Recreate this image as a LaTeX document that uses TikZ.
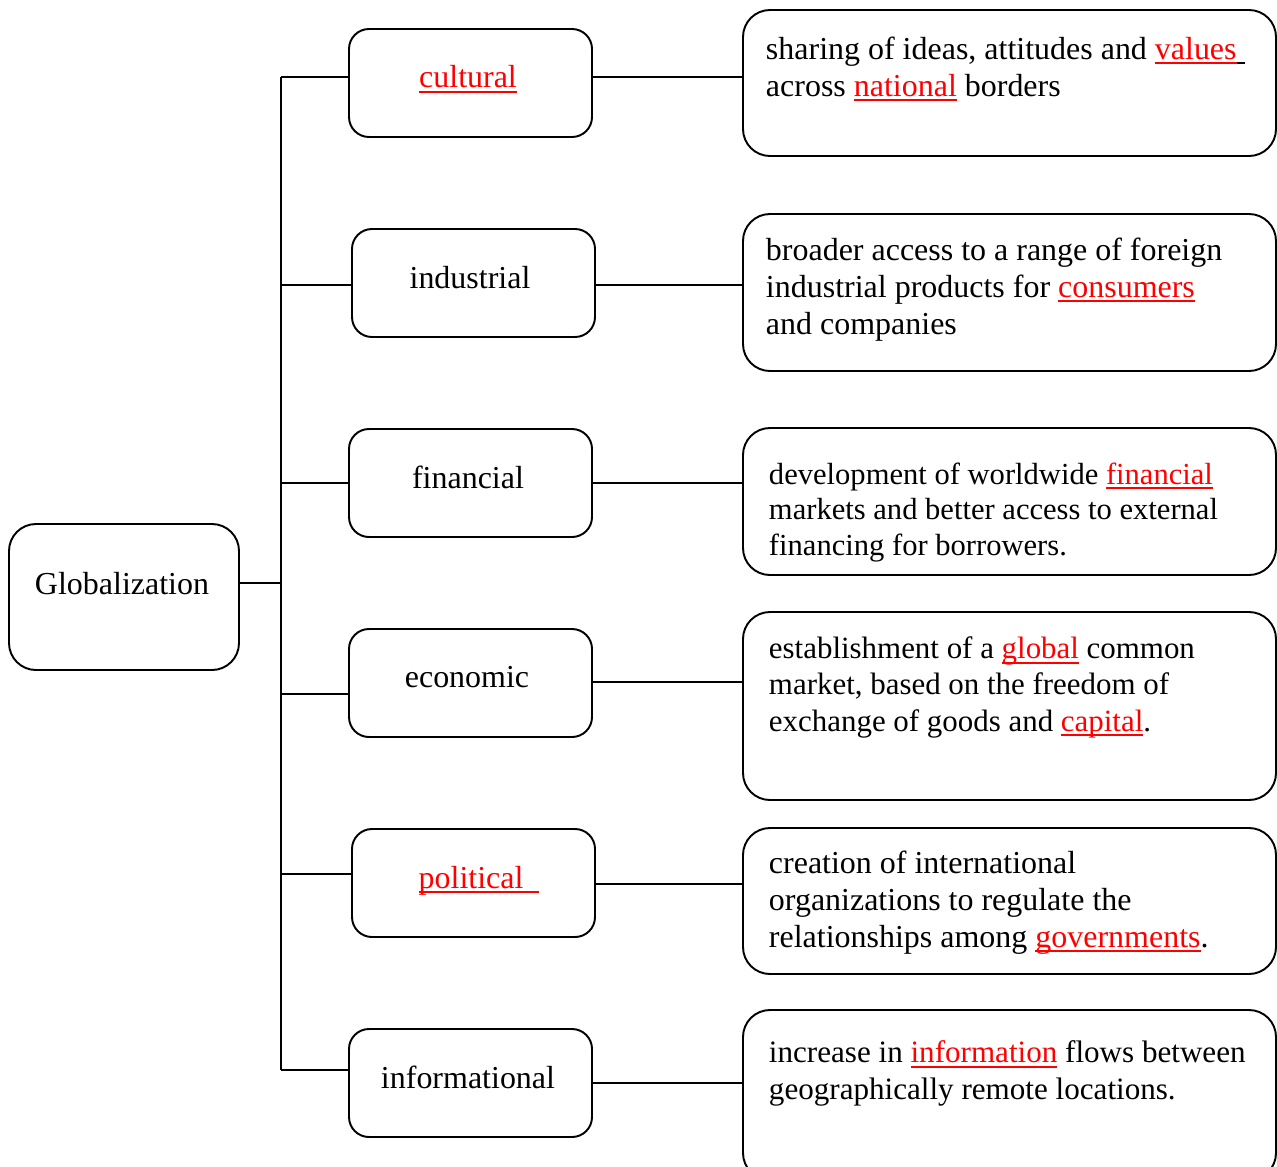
\documentclass[tikz,border=0pt]{standalone}
\usepackage{fontspec}
\setmainfont{Liberation Serif}
\usetikzlibrary{fit}
\definecolor{keyred}{rgb}{1,0,0}
\newcommand{\ulbar}[1]{\rule[-0.15em]{#1}{0.06em}}
\newcommand{\keyword}[1]{\textcolor{keyred}{\setbox0\hbox{#1}\rlap{\ulbar{\wd0}}\box0}}

\begin{document}
\begin{tikzpicture}[x=0.02cm, y=-0.02cm, line width=1.1pt,
    rootbox/.style={draw, rounded corners=0.54cm, inner sep=0pt},
    kindbox/.style={draw, rounded corners=0.4cm, inner sep=0pt},
    descbox/.style={draw, rounded corners=0.54cm, inner sep=0pt},
    kindtext/.style={inner sep=0pt, font=\fontsize{18.2}{21}\selectfont},
    desctext/.style={inner sep=0pt, align=left, font=\fontsize{18.2}{21}\selectfont}]
    \useasboundingbox (0,0) rectangle (1277,1166);

    % root box
    \node[rootbox, fit={(9,524) (239,670)}] (glob) {};
    \node[kindtext, anchor=base] (globtext) at (122,594) {Globalization};

    % kinds of globalization
    \foreach \name/\x/\y in {cul/349/29, ind/352/229, fin/349/429, eco/349/629, pol/352/829, inf/349/1029}
        \node[kindbox, fit={(\x,\y) (\x+243,\y+108)}] (\name) {};

    \node[kindtext, anchor=base] (kcul) at (468,88) {\keyword{cultural}};
    \node[kindtext, anchor=base] (kind) at (470,288) {industrial};
    \node[kindtext, anchor=base] (kfin) at (468,488) {financial};
    \node[kindtext, anchor=base] (keco) at (467,687) {economic};
    \node[kindtext, anchor=base] (kpol) at (479,888) {\keyword{political\hspace{9pt}}};
    \node[kindtext, anchor=base] (kinf) at (468,1088) {informational};

    % descriptions (base = last line)
    \foreach \name/\ya/\yb in {cul/10/156, ind/214/371, fin/428/575, eco/612/800, pol/828/974, inf/1010/1180}
        \node[descbox, fit={(743,\ya) (1276,\yb)}] (d\name) {};

    \node[desctext, anchor=base west] (tcul) at (765,96)
        {sharing of ideas, attitudes and \keyword{values}\ulbar{5pt}\\
         across \keyword{national} borders};
    \node[desctext, anchor=base west] (tind) at (765,334)
        {broader access to a range of foreign\\
         industrial products for \keyword{consumers}\\
         and companies};
    \node[desctext, anchor=base west, font=\fontsize{17.4}{20.2}\selectfont] (tfin) at (768,555)
        {development of worldwide \keyword{financial}\\
         markets and better access to external\\
         financing for borrowers.};
    \node[desctext, anchor=base west, font=\fontsize{17.6}{20.5}\selectfont] (teco) at (768,731)
        {establishment of a \keyword{global} common\\
         market, based on the freedom of\\
         exchange of goods and \keyword{capital}.};
    \node[desctext, anchor=base west] (tpol) at (768,947)
        {creation of international\\
         organizations to regulate the\\
         relationships among \keyword{governments}.};
    \node[desctext, anchor=base west, font=\fontsize{17.7}{20.5}\selectfont] (tinf) at (768,1099)
        {increase in \keyword{information} flows between\\
         geographically remote locations.};

    % connectors
    \coordinate (trunktop) at (281,77);
    \coordinate (trunkbot) at (281,1070);
    \coordinate (hub) at (281,583);
    \draw (trunktop) -- (trunkbot);
    \draw (glob.east |- hub) -- (hub);
    \foreach \name/\yl/\yr in {cul/77/77, ind/285/285, fin/483/483, eco/694/682, pol/874/884, inf/1070/1083}{
        \coordinate (l\name) at (281,\yl);
        \coordinate (r\name) at (668,\yr);
        \draw (l\name) -- (\name.west |- l\name);
        \draw (\name.east |- r\name) -- (d\name.west |- r\name);
    }
\end{tikzpicture}
\end{document}
